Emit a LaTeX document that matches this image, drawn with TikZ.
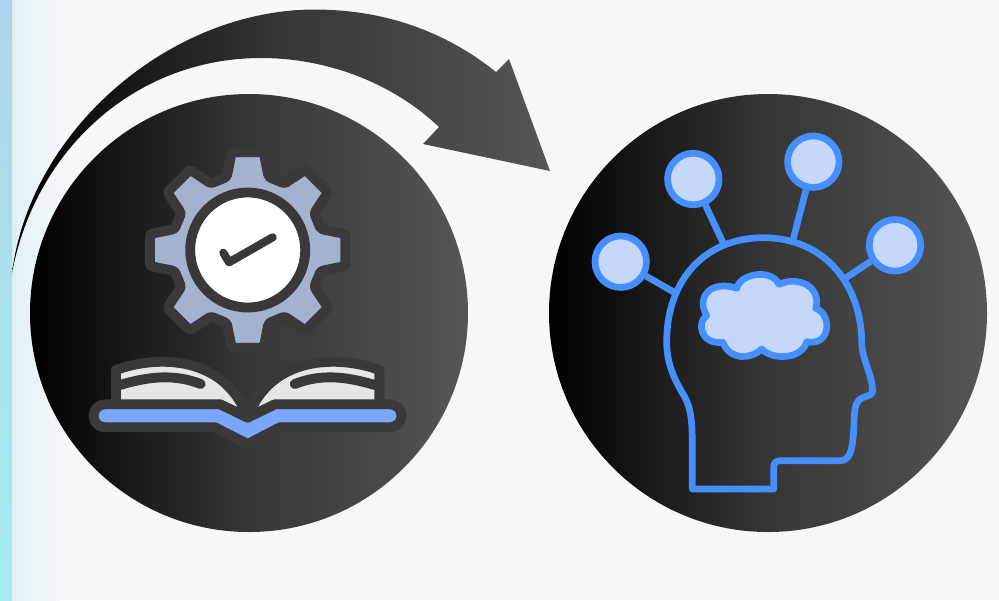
\documentclass[tikz,border=0pt]{standalone}
\definecolor{bgcol}{HTML}{F5F7F8}
\definecolor{stripa}{HTML}{B1D5EC}
\definecolor{stripb}{HTML}{A4ECEF}
\definecolor{fadecol}{HTML}{E2F1F6}
\definecolor{darkcol}{HTML}{3A3839}
\definecolor{gearcol}{HTML}{A4B2D0}
\definecolor{pagecol}{HTML}{E6E6E6}
\definecolor{bandcol}{HTML}{7AA7FA}
\definecolor{headcol}{HTML}{458FFE}
\definecolor{ideacol}{HTML}{C5D8FC}
\definecolor{shadecol}{HTML}{565656}
\definecolor{midcol}{HTML}{363636}
\tikzset{
  disc/.style={left color=black, right color=shadecol, middle color=midcol},
  iconline/.style={draw=darkcol, line width=5.6pt, line join=round, line cap=round},
  headline/.style={draw=headcol, line width=3.8pt, line join=round, line cap=round},
  idea/.style={circle, draw=headcol, fill=ideacol, line width=3.8pt, minimum size=1.03cm, inner sep=0pt}
}
\begin{document}
\begin{tikzpicture}[x=0.02cm, y=-0.02cm]
    % Background
    \fill[bgcol] (0,0) rectangle (999,600);
    \shade[left color=fadecol, right color=bgcol] (12,0) rectangle (60,600);
    \shade[top color=stripa, bottom color=stripb] (0,0) rectangle (12,600);

    % Discs
    \path[disc] (249,313) circle (219);
    \path[disc] (768,313) circle (219);

    % Big arrow
    \path[disc]
        (12,273) .. controls (30,130) and (170,10) .. (314,9.5)
        .. controls (390,9.5) and (450,35) .. (496,72)
        -- (509,59) -- (550,171) -- (423,144) -- (439,127)
        .. controls (395,85) and (330,58) .. (261,58)
        .. controls (135,58) and (35,150) .. (12,273) -- cycle;

    % Gear
    \coordinate (gearc) at (247.7,250);
    \begin{scope}[shift={(gearc)}]
        \draw[iconline, fill=gearcol, rounded corners=1.5pt] (-16:76)
            \foreach \a in {0,45,...,315} {
                -- (\a-16:76) -- (\a-9.3:99) -- (\a+9.3:99) -- (\a+16:76)
            } -- cycle;
        \draw[iconline, fill=white] (0,0) circle (57.5);
    \end{scope}

    % Check mark
    \coordinate (checka) at (223.3,252.7);
    \coordinate (checkb) at (229,262.3);
    \coordinate (checkc) at (272.7,237.3);
    \draw[iconline, line width=4.6pt] (checka) -- (checkb) -- (checkc);

    % Book pages
    \draw[iconline, fill=pagecol] (116,405) -- (116,370)
        .. controls (156.7,355) and (225,355) .. (247.7,417.7) -- (220,404.3);
    \draw[iconline, fill=pagecol] (379.4,405) -- (379.4,370)
        .. controls (338.7,355) and (270.4,355) .. (247.7,417.7) -- (275,404.3);
    \draw[iconline] (120,385) .. controls (150,376) and (175,374) .. (200.7,384);
    \draw[iconline] (374.7,385) .. controls (344.7,376) and (320,374) .. (294.7,384);

    % Book cover
    \draw[iconline, fill=bandcol] (105,404.3) -- (220,404.3) -- (247.7,417.7) -- (275,404.3) -- (390,404.3)
        arc (-90:90:11.5) -- (280,427.3) -- (247.7,444) -- (215,427.3) -- (105,427.3)
        arc (90:270:11.5) -- cycle;

    % Head outline
    \draw[headline] (692.3,489) -- (692.3,441.7)
        .. controls (692,415) and (690,405) .. (681.7,391.7)
        .. controls (672,375) and (666.7,360) .. (666.7,341.7)
        .. controls (666.7,280) and (705,237.7) .. (763.3,237.7)
        .. controls (825,237.7) and (861,285) .. (861.7,341.7)
        .. controls (861.7,360) and (872,372) .. (872.7,391.7)
        .. controls (872,396) and (865,396) .. (862,398)
        .. controls (852,402) and (855,420) .. (853.3,435)
        .. controls (852,450) and (850,460.7) .. (840,460.7)
        -- (780,460.7)
        .. controls (776,460.7) and (773.7,463) .. (773.7,467)
        -- (773.7,489) -- cycle;

    % Thought cloud
    \draw[headline, fill=ideacol] (736.7,288.3)
        .. controls (740,273.3) and (771.7,268.3) .. (779,284.3)
        .. controls (800,275) and (821.7,288.3) .. (815.7,308.3)
        .. controls (831.7,313.3) and (831.7,346.7) .. (806.7,341.7)
        .. controls (801.7,360) and (771.7,360) .. (761.7,349)
        .. controls (750,360) and (730,360) .. (722.7,342.3)
        .. controls (700,345) and (696.7,321.7) .. (706.7,315.7)
        .. controls (695,295) and (713.3,280) .. (736.7,288.3) -- cycle;

    % Ideas and their links
    \node[idea] (ideaa) at (620.7,261.7) {};
    \node[idea] (ideab) at (693.3,179) {};
    \node[idea] (ideac) at (813.3,161.7) {};
    \node[idea] (idead) at (895,245.3) {};
    \coordinate (heada) at (675,292.7);
    \coordinate (headb) at (723.3,243.3);
    \coordinate (headc) at (793.3,239);
    \coordinate (headd) at (846,277.7);
    \draw[headcol, line width=3.8pt] (ideaa) -- (heada);
    \draw[headcol, line width=3.8pt] (ideab) -- (headb);
    \draw[headcol, line width=3.8pt] (ideac) -- (headc);
    \draw[headcol, line width=3.8pt] (idead) -- (headd);
\end{tikzpicture}
\end{document}
